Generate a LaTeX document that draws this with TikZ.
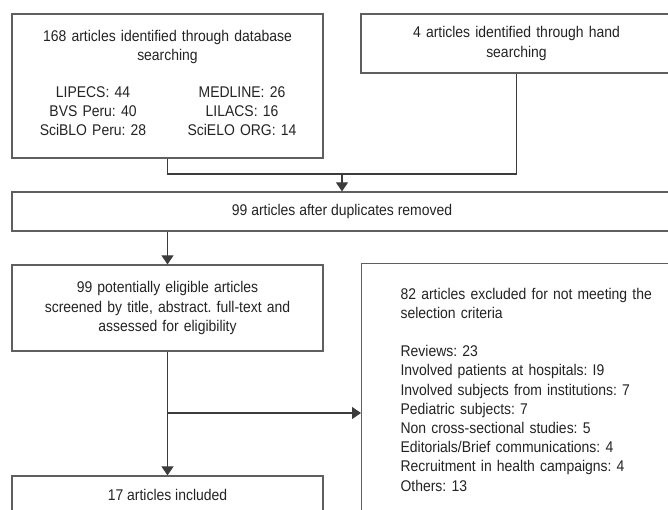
\documentclass[tikz,border=0pt]{standalone}
\usepackage{fontspec}
\setmainfont{Liberation Sans}[FakeStretch=0.9]
\usepackage{array}
\usetikzlibrary{arrows.meta}
\definecolor{BoxLine}{RGB}{95,95,95}
\definecolor{FlowLine}{RGB}{60,60,60}
\definecolor{FlowText}{RGB}{35,35,35}
\newcolumntype{C}[1]{>{\centering\arraybackslash}p{#1}}
\frenchspacing

\begin{document}
\begin{tikzpicture}[x=1pt,y=-1pt,>={Triangle[width=12pt,length=9pt]},font=\fontsize{15.5}{19.2}\selectfont]
			\useasboundingbox (0,0) rectangle (668,510);
			\clip (0,0) rectangle (668,510);
			\tikzstyle{every node}=[draw=BoxLine,line width=1.2pt,rectangle,text=FlowText,inner sep=0pt,align=center]
			\tikzstyle{every path}=[line width=1.1pt]
			
			%% Identification
			\draw (167.5,86) node [minimum width=311pt,minimum height=144pt,text width=298pt] (db) {168 articles identified through database\\ searching\\[19pt]
				\begin{tabular}{@{}C{149pt}@{}C{149pt}@{}}
					LIPECS: 44 & MEDLINE: 26\\
					BVS Peru: 40 & LILACS: 16\\
					SciBLO Peru: 28 & SciELO ORG: 14
				\end{tabular}};
			\draw (516.5,43.5) node [minimum width=311pt,minimum height=59pt,text width=298pt] (hand) {4 articles identified through hand\\ searching};
			
			%% Screening
			\draw (342,211.5) node [minimum width=660pt,minimum height=39pt] (dup) {99 articles after duplicates removed};
			\draw (167.5,308) node [minimum width=311pt,minimum height=86pt,text width=298pt] (elig) {99 potentially eligible articles\\ screened by title, abstract. full-text and\\ assessed for eligibility};
			\draw (361,263) node [anchor=north west,inner xsep=39pt,minimum height=252pt,text width=262pt,align=left] (excl) {82 articles excluded for not meeting the\\ selection criteria\\[19pt]
				Reviews: 23\\
				Involved patients at hospitals: I9\\
				Involved subjects from institutions: 7\\
				Pediatric subjects: 7\\
				Non cross-sectional studies: 5\\
				Editorials/Brief communications: 4\\
				Recruitment in health campaigns: 4\\
				Others: 13};
			
			%% Included
			\draw (167.5,495) node [minimum width=311pt,minimum height=38pt] (incl) {17 articles included};
			
			%% Connections
			\coordinate (mrg) at (342,174);
			\coordinate (brn) at (167.5,413);
			\draw [FlowLine] (db.south) |- (mrg) -| (hand.south);
			\draw [->,FlowLine] (mrg) -- (dup.north);
			\draw [->,FlowLine] (dup.south -| elig.north) -- (elig.north);
			\draw [->,FlowLine] (elig.south) -- (incl.north);
			\draw [->,FlowLine] (brn) -- (brn -| excl.west);
			
		\end{tikzpicture}
\end{document}
